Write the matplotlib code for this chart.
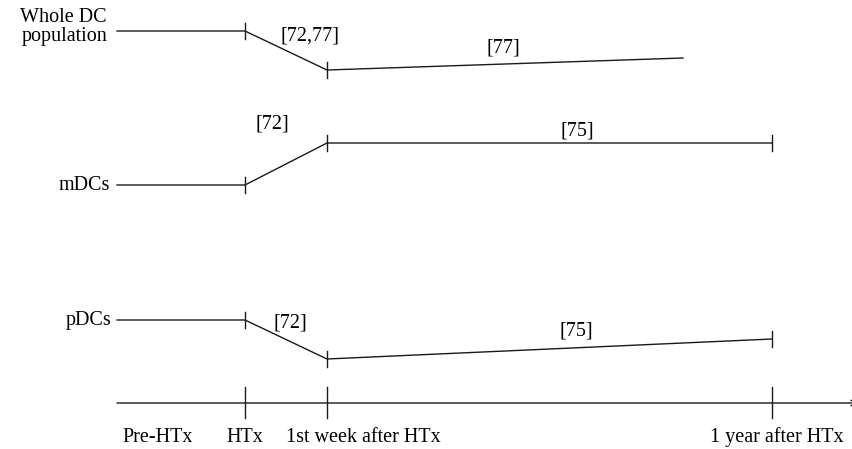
import matplotlib
matplotlib.use("Agg")
import matplotlib.pyplot as plt

plt.rcParams['font.family'] = ['Liberation Serif', 'DejaVu Serif']

# time axis positions (x) and level of each DC population (y, drawn top-down)
t_pre, t_htx, t_week, t_year = 117, 245, 327, 772

whole_x = [t_pre, t_htx, t_week, 683]
whole_y = [31, 31, 70, 58]
mdc_x = [t_pre, t_htx, t_week, t_year]
mdc_y = [185, 185, 143, 143]
pdc_x = [t_pre, t_htx, t_week, t_year]
pdc_y = [320, 320, 359, 339]

row_labels = ["Whole DC\npopulation", "mDCs", "pDCs"]
row_label_x = [107, 110, 111]
row_label_y = [27, 185, 320]

refs = [("[72,77]", 310, 36), ("[77]", 503, 48),
        ("[72]", 272, 124), ("[75]", 577, 131),
        ("[72]", 290, 323), ("[75]", 576, 331)]

tick_pos = [t_htx, t_week, t_year]
tick_labels = ["Pre-HTx", "HTx", "1st week after HTx", "1 year after HTx"]
tick_label_x = [158, 245, 363, 777]
axis_y = 403

fig = plt.figure(figsize=(8.53, 4.49), dpi=100)
ax = fig.add_axes([0, 0, 1, 1])
ax.set_xlim(0, 853)
ax.set_ylim(449, 0)
ax.axis('off')

lc = '#1a1a1a'
fs = 14.5

series = [(whole_x, whole_y, [1, 2]), (mdc_x, mdc_y, [1, 2, 3]), (pdc_x, pdc_y, [1, 2, 3])]
for (xs, ys, marks), lab, lx, ly in zip(series, row_labels, row_label_x, row_label_y):
    ax.plot(xs, ys, color=lc, lw=1.0)
    for i in marks:
        ax.plot([xs[i], xs[i]], [ys[i] - 8, ys[i] + 8], color=lc, lw=1.0)
    ax.text(lx, ly, lab, ha='right', va='center', fontsize=fs, linespacing=1.0)

for txt, x, y in refs:
    ax.text(x, y, txt, ha='center', va='center', fontsize=fs)

# time axis
ax.annotate('', xy=(858, axis_y), xytext=(t_pre, axis_y), annotation_clip=False,
            arrowprops=dict(arrowstyle='->', color=lc, lw=1.0, shrinkA=0, shrinkB=0))
for x in tick_pos:
    ax.plot([x, x], [axis_y - 16, axis_y + 15], color=lc, lw=1.0)
for lab, x in zip(tick_labels, tick_label_x):
    ax.text(x, 437, lab, ha='center', va='center', fontsize=fs)

fig.savefig('out.png', dpi=100)
